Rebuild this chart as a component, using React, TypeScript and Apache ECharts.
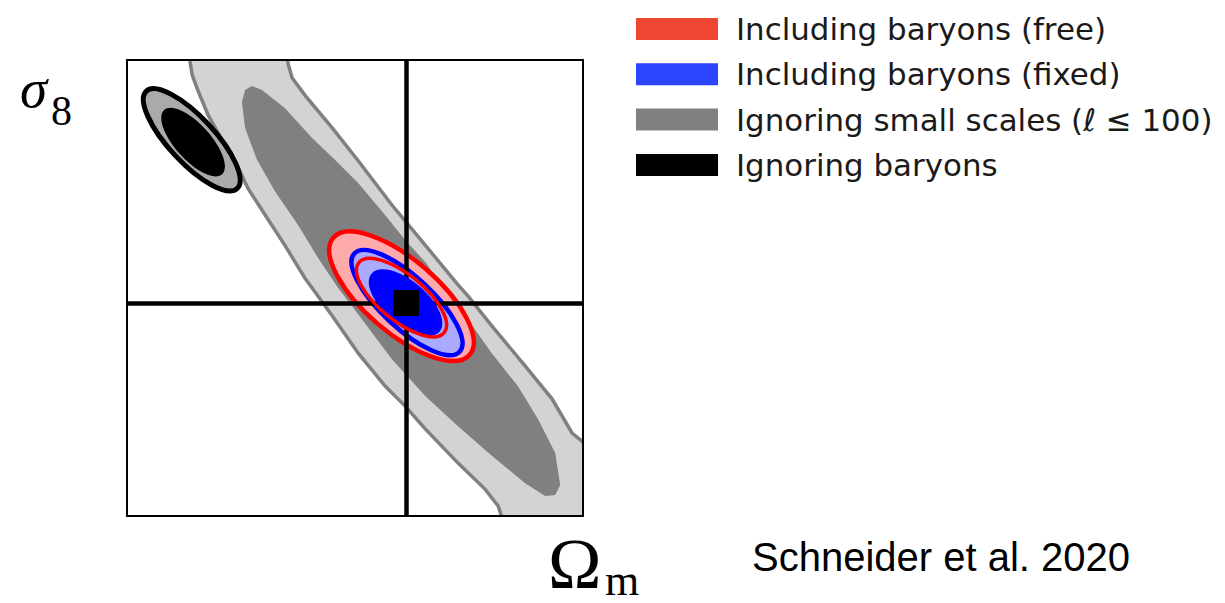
import React, { useEffect, useRef } from "react";
import * as echarts from "echarts";

// Plot units: x (Omega_m) and y (sigma_8) both on a 0..100 relative scale (no tick labels in the original)
const xRange = [0, 100];
const yRange = [0, 100];

// "Ignoring small scales" 2-sigma contour outline (extends beyond the frame, clipped)
const smallScales2s: [number, number][] = [
  [13.4, 104.4], [13.8, 99.8], [14.3, 96.7], [15.6, 93.2], [17.8, 87.9], [20.8, 82.5],
  [23.7, 77.9], [26.5, 71.9], [30.3, 66.0], [34.6, 59.4], [39.0, 52.2], [40.6, 50.0],
  [45.0, 43.9], [50.7, 35.7], [56.6, 28.5], [61.0, 24.1], [65.4, 19.1], [72.6, 11.6],
  [78.5, 5.9], [81.4, 2.2], [83.1, -3.1], [103.7, -3.1], [103.7, 14.9], [99.8, 16.4],
  [97.6, 18.2], [93.2, 25.7], [87.3, 32.9], [80.0, 41.7], [74.8, 48.2], [72.6, 50.7],
  [65.4, 59.4], [58.1, 68.2], [50.7, 77.9], [45.0, 85.1], [39.0, 92.3], [36.2, 96.1],
  [35.3, 99.3], [35.1, 104.4],
];

// "Ignoring small scales" 1-sigma contour outline
const smallScales1s: [number, number][] = [
  [27.4, 94.3], [25.9, 93.4], [25.2, 90.8], [25.9, 85.1], [28.5, 78.1], [32.5, 71.1],
  [37.5, 63.8], [41.9, 56.6], [46.3, 50.0], [49.3, 46.1], [58.1, 34.4], [65.4, 26.3],
  [72.6, 19.7], [80.0, 13.2], [87.3, 7.2], [91.7, 4.4], [93.9, 4.6], [95.0, 6.8],
  [93.9, 13.8], [90.1, 21.3], [85.7, 28.5], [80.0, 35.7], [72.6, 46.1], [69.7, 49.6],
  [65.4, 55.7], [61.0, 60.5], [56.6, 66.0], [50.7, 73.0], [45.6, 78.1], [40.6, 82.9],
  [34.6, 89.5], [29.6, 93.4],
];

// Elliptical contours: [centerX, centerY, semiMajor, semiMinor, tilt (deg, clockwise from +x)]
const freeOuter = [[60.2, 48.2, 19.7, 8.0, 40.6]];
const freeInner = [[60.2, 47.9, 12.1, 5.0, 39.4]];
const fixedOuter = [[61.4, 46.8, 15.8, 5.6, 43]];
const fixedInner = [[61.1, 46.8, 9.8, 4.7, 40.3]];
const noBaryonOuter = [[14.2, 82.5, 14.6, 5.0, 47]];
const noBaryonInner = [[14.5, 82.0, 9.5, 3.9, 48]];

const fiducial = [61.2, 46.7];

const legendLabels = [
  "Including baryons (free)",
  "Including baryons (fixed)",
  "Ignoring small scales (\u2113 \u2264 100)",
  "Ignoring baryons",
];
const legendColors = ["#ef4631", "#2b44ff", "#808080", "#000000"];

function polygonSeries(points: [number, number][], style: any, z: number) {
  return {
    type: "custom",
    clip: true,
    z,
    silent: true,
    data: [0],
    renderItem: (params: any, api: any) => ({
      type: "polygon",
      shape: { points: points.map((p) => api.coord(p)) },
      style,
    }),
  };
}

function ellipseSeries(rows: number[][], style: any, z: number) {
  return {
    type: "custom",
    clip: true,
    z,
    silent: true,
    encode: { x: 0, y: 1 },
    data: rows,
    renderItem: (params: any, api: any) => {
      const c = api.coord([api.value(0), api.value(1)]);
      const rx = api.size([api.value(2), 0])[0];
      const ry = api.size([api.value(3), 0])[0];
      return {
        type: "ellipse",
        x: c[0],
        y: c[1],
        rotation: (-api.value(4) * Math.PI) / 180,
        shape: { cx: 0, cy: 0, rx, ry },
        style,
      };
    },
  };
}

export default function App() {
  const ref = useRef<HTMLDivElement>(null);
  useEffect(() => {
    if (!ref.current) return;
    const chart = echarts.init(ref.current, null, { renderer: "svg" });
    const axisBase = {
      type: "value",
      axisLine: { show: true, onZero: false, lineStyle: { color: "#000", width: 2 } },
      axisTick: { show: false },
      axisLabel: { show: false },
      splitLine: { show: false },
      z: 10,
    };
    const legendGraphics: any[] = [];
    legendLabels.forEach((label, i) => {
      const y = 18 + i * 45.3;
      legendGraphics.push({
        type: "rect",
        shape: { x: 636, y, width: 82, height: 22 },
        style: { fill: legendColors[i] },
      });
      legendGraphics.push({
        type: "text",
        x: 736,
        y: y + 11,
        style: {
          text: label,
          font: '30.9px "DejaVu Sans"',
          fill: "#1a1a1a",
          textAlign: "left",
          textVerticalAlign: "middle",
        },
      });
    });
    chart.setOption({
      animation: false,
      backgroundColor: "#fff",
      grid: { left: 127, top: 60, width: 456, height: 456, show: false },
      xAxis: [
        { ...axisBase, min: xRange[0], max: xRange[1], position: "bottom" },
        { ...axisBase, min: xRange[0], max: xRange[1], position: "top" },
      ],
      yAxis: [
        { ...axisBase, min: yRange[0], max: yRange[1], position: "left" },
        { ...axisBase, min: yRange[0], max: yRange[1], position: "right" },
      ],
      series: [
        polygonSeries(smallScales2s, { fill: "#d3d3d3", stroke: "#808080", lineWidth: 3.5 }, 1),
        polygonSeries(smallScales1s, { fill: "#808080" }, 2),
        ellipseSeries(freeOuter, { fill: "#ffaaaa", stroke: "#ff0000", lineWidth: 4.5 }, 3),
        ellipseSeries(fixedOuter, { fill: "#aaaaff", stroke: "#0000ff", lineWidth: 4.5 }, 4),
        ellipseSeries(fixedInner, { fill: "#0000ff" }, 5),
        ellipseSeries(freeInner, { fill: "none", stroke: "#ff0000", lineWidth: 3.5 }, 6),
        ellipseSeries(noBaryonOuter, { fill: "#aaaaaa", stroke: "#000000", lineWidth: 5 }, 3),
        ellipseSeries(noBaryonInner, { fill: "#000000" }, 4),
        {
          type: "scatter",
          z: 8,
          silent: true,
          data: [fiducial],
          symbol: "rect",
          symbolSize: 26,
          itemStyle: { color: "#000", opacity: 1 },
          markLine: {
            silent: true,
            symbol: ["none", "none"],
            label: { show: false },
            lineStyle: { color: "#000", width: 4.5, type: "solid", opacity: 1 },
            data: [{ xAxis: fiducial[0] }, { yAxis: fiducial[1] }],
          },
        },
      ],
      graphic: [
        ...legendGraphics,
        {
          type: "text",
          x: 20,
          y: 88,
          style: { text: "\u03c3", font: 'italic 55px "Liberation Serif"', fill: "#000", textAlign: "left", textVerticalAlign: "middle" },
        },
        {
          type: "text",
          x: 51,
          y: 111,
          style: { text: "8", font: '42px "Liberation Serif"', fill: "#000", textAlign: "left", textVerticalAlign: "middle" },
        },
        {
          type: "text",
          x: 548,
          y: 564,
          style: { text: "\u03a9", font: '72px "Liberation Serif"', lineHeight: 72, fill: "#000", textAlign: "left", textVerticalAlign: "middle" },
        },
        {
          type: "text",
          x: 605,
          y: 602,
          style: { text: "m", font: '44px "Liberation Serif"', fill: "#000", textAlign: "left", textVerticalAlign: "bottom" },
        },
        {
          type: "text",
          x: 752,
          y: 557,
          style: { text: "Schneider et al. 2020", font: '40px "Liberation Sans"', fill: "#000", textAlign: "left", textVerticalAlign: "middle" },
        },
      ],
    });
    return () => chart.dispose();
  }, []);
  return (
    <div
      ref={ref}
      style={{ position: "absolute", left: 0, top: 0, width: 1225, height: 603, background: "#fff" }}
    />
  );
}
